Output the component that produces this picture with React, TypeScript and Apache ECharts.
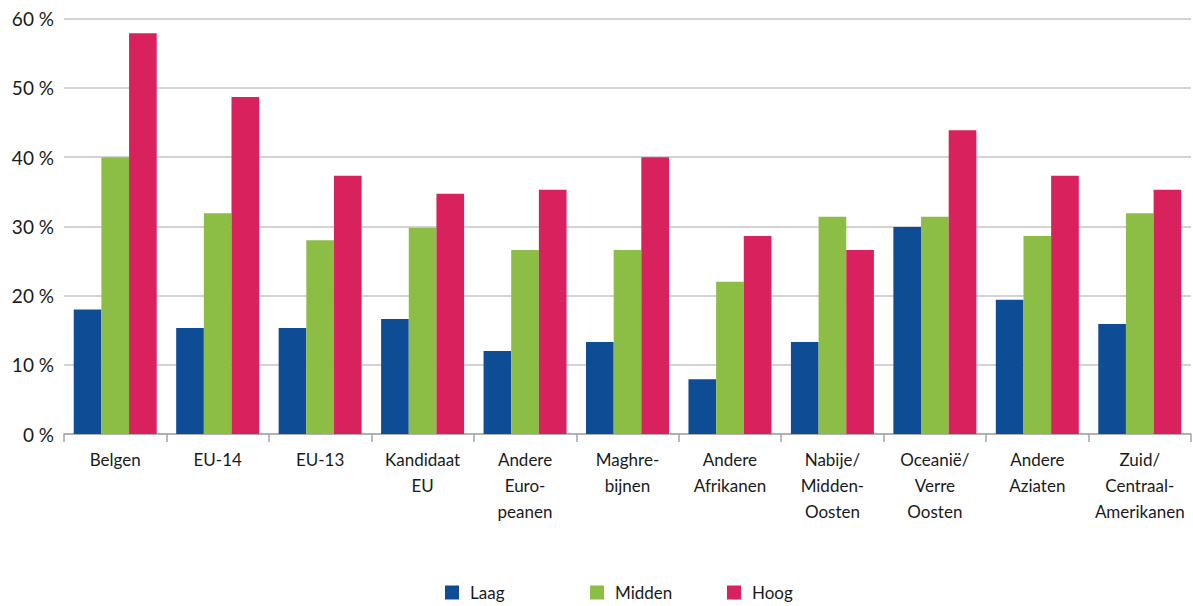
import React, { useEffect, useRef } from "react";
import * as echarts from "echarts";

const categories = [
  "Belgen",
  "EU-14",
  "EU-13",
  "Kandidaat\nEU",
  "Andere\nEuro-\npeanen",
  "Maghre-\nbijnen",
  "Andere\nAfrikanen",
  "Nabije/\nMidden-\nOosten",
  "Oceanië/\nVerre\nOosten",
  "Andere\nAziaten",
  "Zuid/\nCentraal-\nAmerikanen",
];

const laag = [18.0, 15.3, 15.3, 16.6, 12.0, 13.3, 7.9, 13.3, 29.9, 19.4, 15.9];
const midden = [40.0, 31.9, 28.0, 29.8, 26.6, 26.6, 22.0, 31.4, 31.4, 28.6, 31.9];
const hoog = [57.9, 48.7, 37.3, 34.7, 35.3, 40.0, 28.6, 26.6, 43.9, 37.3, 35.3];

const seriesNames = ["Laag", "Midden", "Hoog"];
const colors = ["#0f4c96", "#8cbd44", "#d9215d"];

const FONT = "Lato, 'Noto Sans', sans-serif";

export default function App() {
  const ref = useRef<HTMLDivElement>(null);
  useEffect(() => {
    if (!ref.current) return;
    const chart = echarts.init(ref.current, undefined, { renderer: "svg" });
    const legendLefts = [440, 585, 722];
    chart.setOption({
      animation: false,
      textStyle: { fontFamily: FONT },
      legend: seriesNames.map((n, i) => ({
        data: [n],
        left: legendLefts[i],
        top: 579,
        itemWidth: 14,
        itemHeight: 14,
        itemGap: 0,
        icon: "rect",
        textStyle: { fontFamily: FONT, fontSize: 17, color: "#1a1a1a", padding: [0, 0, 0, 6] },
      })),
      grid: { left: 64, right: 2, top: 18.7, bottom: 172, containLabel: false },
      xAxis: {
        type: "category",
        data: categories,
        boundaryGap: true,
        axisLine: { lineStyle: { color: "#a6a6a6", width: 1.5 } },
        axisTick: { show: true, length: 8, lineStyle: { color: "#a6a6a6", width: 1.5 } },
        axisLabel: {
          interval: 0,
          margin: 12,
          fontFamily: FONT,
          fontSize: 17,
          color: "#1a1a1a",
          lineHeight: 26,
          align: "center",
        },
      },
      yAxis: {
        type: "value",
        min: 0,
        max: 60,
        interval: 10,
        axisLine: { show: false },
        axisTick: { show: false },
        splitLine: { lineStyle: { color: "#c4c4c4", width: 1.5 } },
        axisLabel: {
          formatter: (v: number) => `${v} %`,
          fontFamily: FONT,
          fontSize: 19,
          color: "#1a1a1a",
          margin: 10,
        },
      },
      series: [laag, midden, hoog].map((d, i) => ({
        name: seriesNames[i],
        type: "bar",
        data: d,
        barGap: "0%",
        barCategoryGap: "19%",
        itemStyle: { color: colors[i] },
      })),
    });
    return () => chart.dispose();
  }, []);
  return <div ref={ref} style={{ width: 1193, height: 606, position: "absolute", left: 0, top: 0 }} />;
}
